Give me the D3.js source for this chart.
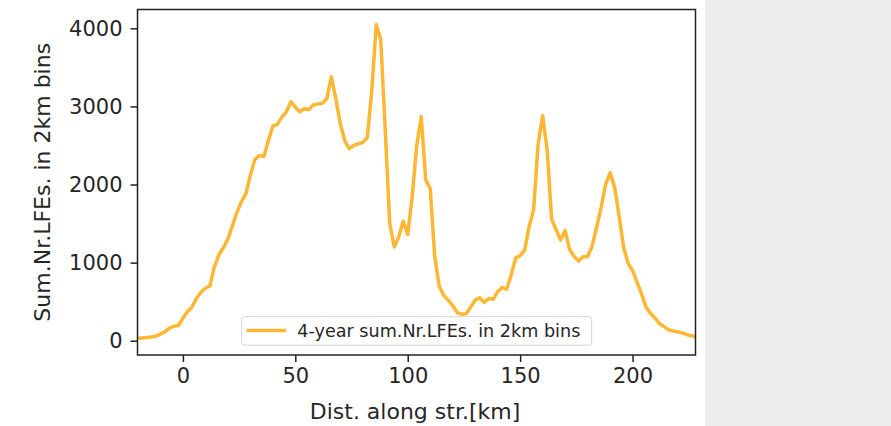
<!DOCTYPE html>
<html>
<head>
<meta charset="utf-8">
<script src="https://cdn.jsdelivr.net/npm/d3@7"></script>
<style>
  html, body { margin: 0; padding: 0; background: #fff; }
  svg { display: block; }
  text { font-family: "DejaVu Sans", sans-serif; fill: #262626; }
</style>
</head>
<body>
<svg id="chart" width="891" height="426"></svg>
<script>
// Distance along strike (km), 2 km bins
const distKm = [
  -20,-18,-16,-14,-12,-10,-8,-6,-4,-2,
  0,2,4,6,8,10,12,14,16,18,
  20,22,24,26,28,30,32,34,36,38,
  40,42,44,46,48,50,52,54,56,58,
  60,62,64,66,68,70,72,74,76,78,
  80,82,84,86,88,90,92,94,96,98,
  100,102,104,106,108,110,112,114,116,118,
  120,122,124,126,128,130,132,134,136,138,
  140,142,144,146,148,150,152,154,156,158,
  160,162,164,166,168,170,172,174,176,178,
  180,182,184,186,188,190,192,194,196,198,
  200,202,204,206,208,210,212,214,216,218,
  220,222,224,226,228
];
// 4-year sum of number of LFEs in each 2 km bin
const lfeSum = [
  31,35,40,48,60,85,115,160,185,195,
  290,370,430,540,620,671,700,950,1100,1190,
  1300,1470,1640,1780,1880,2120,2320,2370,2360,2560,
  2750,2770,2860,2930,3060,2990,2930,2970,2960,3020,
  3030,3040,3100,3380,3100,2780,2560,2460,2500,2520,
  2540,2600,3200,4050,3850,2700,1500,1200,1330,1530,
  1360,1850,2500,2870,2060,1950,1080,700,580,520,
  450,360,340,345,430,520,550,490,540,530,
  630,680,660,840,1060,1090,1160,1460,1680,2520,
  2880,2450,1560,1420,1290,1410,1170,1080,1020,1075,
  1075,1210,1450,1700,2000,2150,1970,1600,1200,990,
  900,750,600,430,350,290,220,180,140,125,
  115,100,80,65,51
];
const xTicks = [0, 50, 100, 150, 200];
const yTicks = [0, 1000, 2000, 3000, 4000];
const xLabel = "Dist. along str.[km]";
const yLabel = "Sum.Nr.LFEs. in 2km bins";
const legendLabel = "4-year sum.Nr.LFEs. in 2km bins";

const svg = d3.select("#chart");
const W = 891, H = 426;
const plot = { left: 137.5, right: 695.5, top: 9.5, bottom: 355 };
const lineColor = "rgba(255,165,0,0.8)";

// right-hand grey panel
svg.append("rect").attr("x", 705).attr("y", 0).attr("width", W - 705).attr("height", H).attr("fill", "#eeeeee");

const x = d3.scaleLinear().domain([-20.2, 228]).range([plot.left, plot.right]);
const y = d3.scaleLinear().domain([-183, 4241]).range([plot.bottom, plot.top]);

const data = distKm.map((d, i) => ({ x: d, y: lfeSum[i] }));

svg.append("clipPath").attr("id", "clip").append("rect")
  .attr("x", plot.left).attr("y", plot.top)
  .attr("width", plot.right - plot.left).attr("height", plot.bottom - plot.top);

svg.append("path")
  .datum(data)
  .attr("clip-path", "url(#clip)")
  .attr("fill", "none")
  .attr("stroke", lineColor)
  .attr("stroke-width", 3.5)
  .attr("stroke-linejoin", "round")
  .attr("stroke-linecap", "butt")
  .attr("d", d3.line().x(d => x(d.x)).y(d => y(d.y)));

const xAxis = d3.axisBottom(x).tickValues(xTicks).tickSize(7).tickPadding(6).tickFormat(d3.format("d"));
const yAxis = d3.axisLeft(y).tickValues(yTicks).tickSize(7).tickPadding(8).tickFormat(d3.format("d"));

const gx = svg.append("g").attr("transform", `translate(0,${plot.bottom})`).call(xAxis);
const gy = svg.append("g").attr("transform", `translate(${plot.left},0)`).call(yAxis);
[gx, gy].forEach(g => {
  g.select(".domain").remove();
  g.selectAll(".tick line").attr("stroke", "#222").attr("stroke-width", 1.5);
  g.selectAll(".tick text").attr("font-size", 21).attr("font-family", "DejaVu Sans, sans-serif").attr("fill", "#262626");
});

svg.append("rect")
  .attr("x", plot.left).attr("y", plot.top)
  .attr("width", plot.right - plot.left).attr("height", plot.bottom - plot.top)
  .attr("fill", "none").attr("stroke", "#222").attr("stroke-width", 1.5);

svg.append("text")
  .attr("x", 415).attr("y", 418.5)
  .attr("text-anchor", "middle").attr("font-size", 22)
  .text(xLabel);
svg.append("text")
  .attr("transform", `translate(50,${(plot.top + plot.bottom) / 2}) rotate(-90)`)
  .attr("text-anchor", "middle").attr("font-size", 22)
  .text(yLabel);

const lg = svg.append("g");
lg.append("rect")
  .attr("x", 241.7).attr("y", 316.7).attr("width", 350).attr("height", 28.5).attr("rx", 3)
  .attr("fill", "rgba(255,255,255,0.8)").attr("stroke", "#d6d6d6").attr("stroke-width", 1);
lg.append("line")
  .attr("x1", 246.7).attr("x2", 286).attr("y1", 330.5).attr("y2", 330.5)
  .attr("stroke", lineColor).attr("stroke-width", 3.5);
lg.append("text")
  .attr("x", 297.3).attr("y", 336.5).attr("font-size", 17.6)
  .text(legendLabel);
</script>
</body>
</html>
